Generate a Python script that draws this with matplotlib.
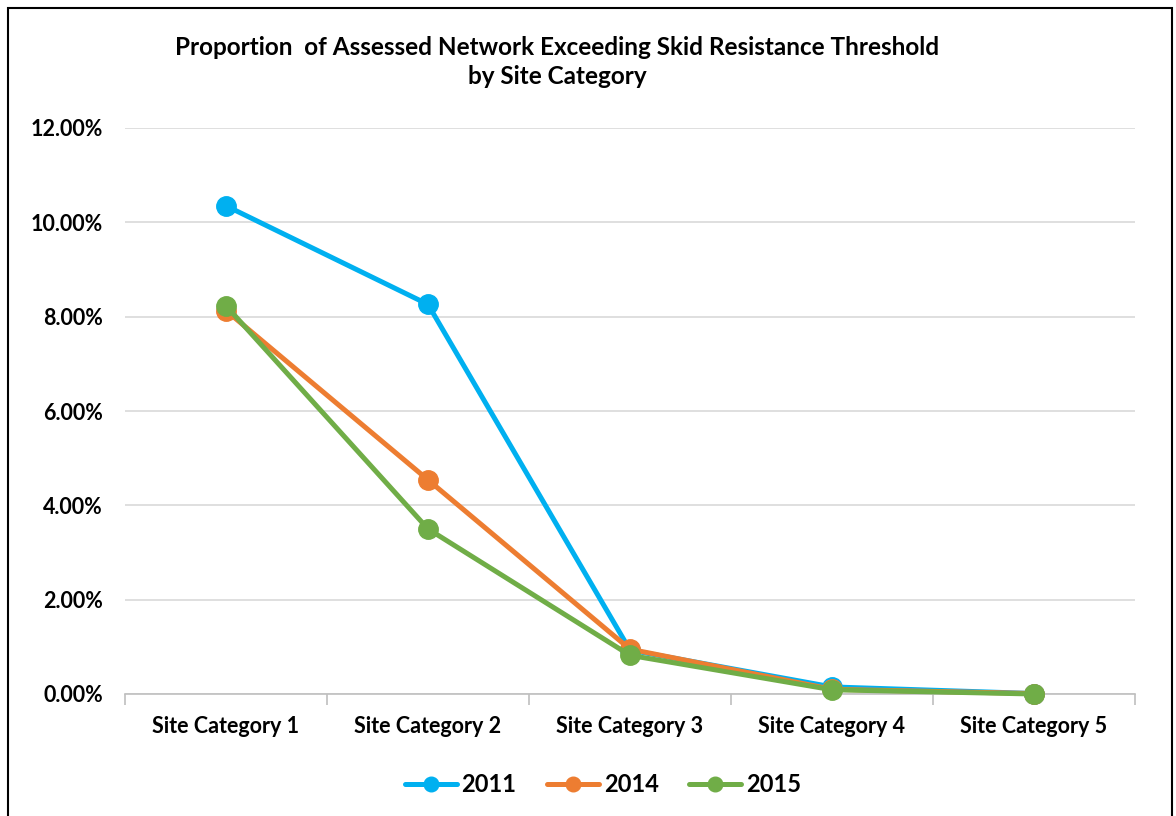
import matplotlib.pyplot as plt
from matplotlib.patches import Rectangle
from matplotlib.ticker import FuncFormatter, FixedLocator

categorias = ['Site Category 1', 'Site Category 2', 'Site Category 3',
              'Site Category 4', 'Site Category 5']
anios = ['2011', '2014', '2015']
v2011 = [10.35, 8.26, 0.93, 0.15, 0.01]
v2014 = [8.13, 4.54, 0.95, 0.10, 0.01]
v2015 = [8.23, 3.50, 0.82, 0.09, 0.00]
colores = ['#00B0F0', '#ED7D31', '#70AD47']

plt.rcParams['font.family'] = ['Lato', 'DejaVu Sans']
plt.rcParams['font.weight'] = 'bold'

fig = plt.figure(figsize=(11.76, 8.16), dpi=100)
ax = fig.add_axes([125/1176, 1 - 694/816, (1135 - 125)/1176, (694 - 128)/816])

x = list(range(len(categorias)))
for serie, nombre, c in zip([v2011, v2014, v2015], anios, colores):
    ax.plot(x, serie, color=c, lw=3.6, marker='o', ms=14, label=nombre,
            solid_capstyle='round', clip_on=False, zorder=3)

ax.set_xlim(-0.5, 4.5)
ax.set_ylim(0, 12)
ax.set_yticks([0, 2, 4, 6, 8, 10, 12])
ax.yaxis.set_major_formatter(FuncFormatter(lambda v, p: f'{v:.2f}%'))
ax.grid(axis='y', color='#D9D9D9', lw=1.2)
ax.set_axisbelow(True)
ax.set_xticks(x)
ax.set_xticklabels(categorias)
ax.xaxis.set_minor_locator(FixedLocator([-0.5, 0.5, 1.5, 2.5, 3.5, 4.5]))
ax.tick_params(axis='x', which='major', length=0, pad=16, labelsize=15.5)
ax.tick_params(axis='x', which='minor', length=8, color='#BFBFBF', width=1.2)
ax.tick_params(axis='y', length=0, pad=16, labelsize=15.5)
for lado in ['top', 'right', 'left']:
    ax.spines[lado].set_visible(False)
ax.spines['bottom'].set_color('#BFBFBF')
ax.spines['bottom'].set_linewidth(1.2)

fig.text(557/1176, 1 - 62/816,
         'Proportion  of Assessed Network Exceeding Skid Resistance Threshold\nby Site Category',
         ha='center', va='center', fontsize=17.5, fontweight='bold', linespacing=1.35)

ax.legend(loc='center', bbox_to_anchor=(603/1176, 1 - 785/816),
          bbox_transform=fig.transFigure, ncol=3, frameon=False,
          fontsize=17, markerscale=0.75, handlelength=2.2, columnspacing=1.3,
          handletextpad=0.2)

fig.patches.append(Rectangle((8/1176, -0.05), 1164/1176, 1.05 - 8/816,
                             transform=fig.transFigure, fill=False,
                             edgecolor='black', lw=1.5))

fig.savefig('out.png', dpi=100)
